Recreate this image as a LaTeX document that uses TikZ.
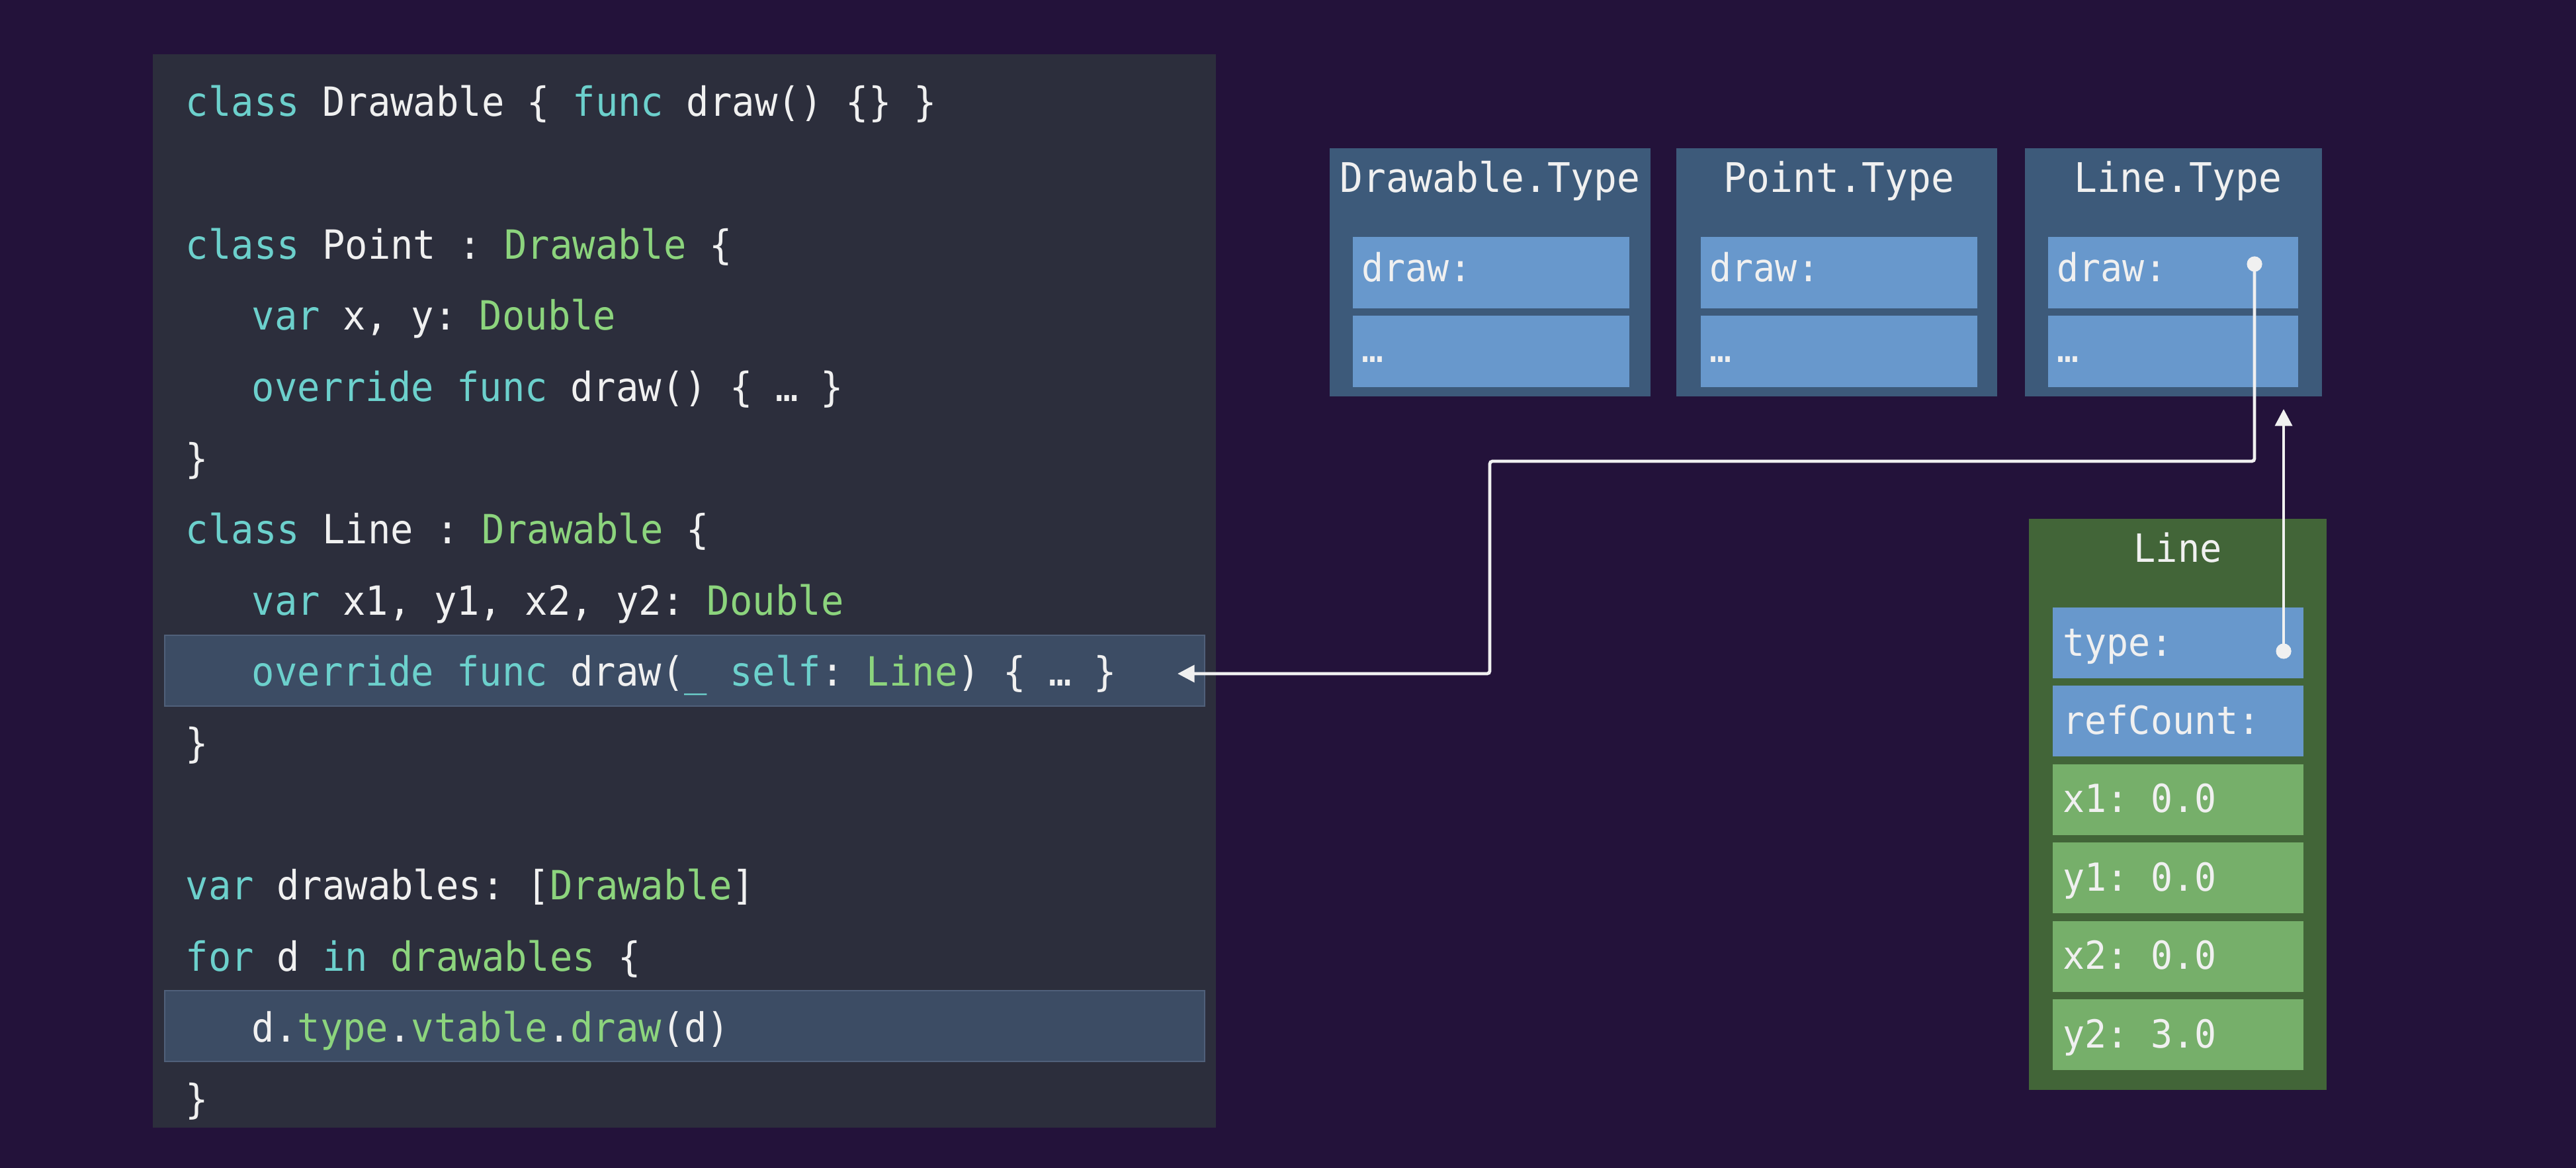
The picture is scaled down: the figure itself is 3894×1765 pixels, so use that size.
\documentclass[tikz,border=0pt]{standalone}
\usepackage{fontspec}
\newfontfamily\codefont[FakeStretch=0.94,WordSpace={1,0,0},PunctuationSpace=WordSpace]{DejaVu Sans Mono}
\usetikzlibrary{arrows.meta}
\definecolor{bg}{RGB}{35,18,58}
\definecolor{panel}{RGB}{44,46,60}
\definecolor{hl}{RGB}{60,76,100}
\definecolor{hlborder}{RGB}{80,96,122}
\definecolor{typeouter}{RGB}{61,90,122}
\definecolor{typerow}{RGB}{104,152,204}
\definecolor{objouter}{RGB}{66,101,56}
\definecolor{objrow}{RGB}{118,175,106}
\definecolor{txtw}{RGB}{240,240,240}
\definecolor{kwc}{RGB}{108,208,204}
\definecolor{tyc}{RGB}{140,212,125}
\newcommand\pxu{0.25pt}
\newcommand\ckw[1]{\textcolor{kwc}{#1}}
\newcommand\cty[1]{\textcolor{tyc}{#1}}
\begin{document}
\begin{tikzpicture}[x=0.25pt,y=-0.25pt,
  box/.style={rectangle,inner sep=0pt,outer sep=0pt},
  codeline/.style={anchor=base west,inner sep=0pt,text=txtw,font=\codefont\fontsize{15.2pt}{18pt}\selectfont},
  titletxt/.style={anchor=base,inner sep=0pt,text=txtw,font=\codefont\fontsize{15.4pt}{18pt}\selectfont},
  rowtxt/.style={anchor=base west,inner sep=0pt,text=txtw,font=\codefont\fontsize{14.6pt}{18pt}\selectfont},
  dotst/.style={circle,fill=txtw,inner sep=0pt,minimum size=5.8pt},
  conn/.style={draw=txtw,line width=1.2pt,rounded corners=1pt,-{Triangle[length=6.4pt,width=6.4pt]}}
]
\useasboundingbox (0,0) rectangle (3894,1765);
\fill[bg] (0,0) rectangle (3894,1765);

% code panel
\node[box,fill=panel,minimum width=1607*\pxu,minimum height=1622*\pxu] (panel) at (1034.5,893) {};
\node[box,fill=hl,draw=hlborder,line width=0.5pt,minimum width=1572*\pxu,minimum height=107*\pxu] (hl1) at (1035,1013.5) {};
\node[box,fill=hl,draw=hlborder,line width=0.5pt,minimum width=1572*\pxu,minimum height=107*\pxu] (hl2) at (1035,1550.5) {};

\node[codeline] (c0) at (280,176) {\ckw{class} Drawable \{ \ckw{func} draw() \{\} \}};
\node[codeline] (c2) at (280,391.2) {\ckw{class} Point : \cty{Drawable} \{};
\node[codeline] (c3) at (380,498.8) {\ckw{var} x, y: \cty{Double}};
\node[codeline] (c4) at (380,606.4) {\ckw{override func} draw() \{ … \}};
\node[codeline] (c5) at (280,714) {\}};
\node[codeline] (c6) at (280,821.6) {\ckw{class} Line : \cty{Drawable} \{};
\node[codeline] (c7) at (380,929.2) {\ckw{var} x1, y1, x2, y2: \cty{Double}};
\node[codeline] (c8) at (380,1036.8) {\ckw{override func} draw(\ckw{\_ self}: \cty{Line}) \{ … \}};
\node[codeline] (c9) at (280,1144.4) {\}};
\node[codeline] (c11) at (280,1359.6) {\ckw{var} drawables: [\cty{Drawable}]};
\node[codeline] (c12) at (280,1467.2) {\ckw{for} d \ckw{in} \cty{drawables} \{};
\node[codeline] (c13) at (380,1574.8) {d.\cty{type}.\cty{vtable}.\cty{draw}(d)};
\node[codeline] (c14) at (280,1682.4) {\}};

% type boxes
\node[box,fill=typeouter,minimum width=485*\pxu,minimum height=375*\pxu] (dtype) at (2252.5,411.5) {};
\node[box,fill=typerow,minimum width=418*\pxu,minimum height=108*\pxu] (dtype1) at (2254,412) {};
\node[box,fill=typerow,minimum width=418*\pxu,minimum height=108*\pxu] (dtype2) at (2254,531) {};
\node[titletxt] (dtypet) at (2252.5,290) {Drawable.Type};
\node[rowtxt] (dtype1t) at (2058,425) {draw:};
\node[rowtxt] (dtype2t) at (2058,547) {…};

\node[box,fill=typeouter,minimum width=485*\pxu,minimum height=375*\pxu] (ptype) at (2776.5,411.5) {};
\node[box,fill=typerow,minimum width=418*\pxu,minimum height=108*\pxu] (ptype1) at (2780,412) {};
\node[box,fill=typerow,minimum width=418*\pxu,minimum height=108*\pxu] (ptype2) at (2780,531) {};
\node[titletxt] (ptypet) at (2780,290) {Point.Type};
\node[rowtxt] (ptype1t) at (2584,425) {draw:};
\node[rowtxt] (ptype2t) at (2584,547) {…};

\node[box,fill=typeouter,minimum width=449*\pxu,minimum height=375*\pxu] (ltype) at (3285.5,411.5) {};
\node[box,fill=typerow,minimum width=378*\pxu,minimum height=108*\pxu] (ltype1) at (3285,412) {};
\node[box,fill=typerow,minimum width=378*\pxu,minimum height=108*\pxu] (ltype2) at (3285,531) {};
\node[titletxt] (ltypet) at (3292,290) {Line.Type};
\node[rowtxt] (ltype1t) at (3109,425) {draw:};
\node[rowtxt] (ltype2t) at (3109,547) {…};

% Line object
\node[box,fill=objouter,minimum width=450*\pxu,minimum height=863*\pxu] (obj) at (3292,1215.5) {};
\node[box,fill=typerow,minimum width=379*\pxu,minimum height=107*\pxu] (orow1) at (3292.5,971.5) {};
\node[box,fill=typerow,minimum width=379*\pxu,minimum height=107*\pxu] (orow2) at (3292.5,1089.9) {};
\node[box,fill=objrow,minimum width=379*\pxu,minimum height=107*\pxu] (orow3) at (3292.5,1208.3) {};
\node[box,fill=objrow,minimum width=379*\pxu,minimum height=107*\pxu] (orow4) at (3292.5,1326.7) {};
\node[box,fill=objrow,minimum width=379*\pxu,minimum height=107*\pxu] (orow5) at (3292.5,1445.1) {};
\node[box,fill=objrow,minimum width=379*\pxu,minimum height=107*\pxu] (orow6) at (3292.5,1563.5) {};
\node[titletxt,font=\codefont\fontsize{14.7pt}{18pt}\selectfont] (objt) at (3292,849) {Line};
\node[rowtxt] (orow1t) at (3118,991) {type:};
\node[rowtxt] (orow2t) at (3118,1109.4) {refCount:};
\node[rowtxt] (orow3t) at (3118,1227.8) {x1: 0.0};
\node[rowtxt] (orow4t) at (3118,1346.2) {y1: 0.0};
\node[rowtxt] (orow5t) at (3118,1464.6) {x2: 0.0};
\node[rowtxt] (orow6t) at (3118,1583) {y2: 3.0};

% connectors
\node[dotst] (dot1) at (3408,399) {};
\node[dotst] (dot2) at (3452,984) {};
\coordinate (bend1) at (2252,697);
\coordinate (tip1) at (1780,1018);
\coordinate (tip2) at (3452,618);
\draw[conn] (dot1.center) |- (bend1) |- (tip1);
\draw[conn] (dot2.center) -- (tip2);
\end{tikzpicture}
\end{document}
